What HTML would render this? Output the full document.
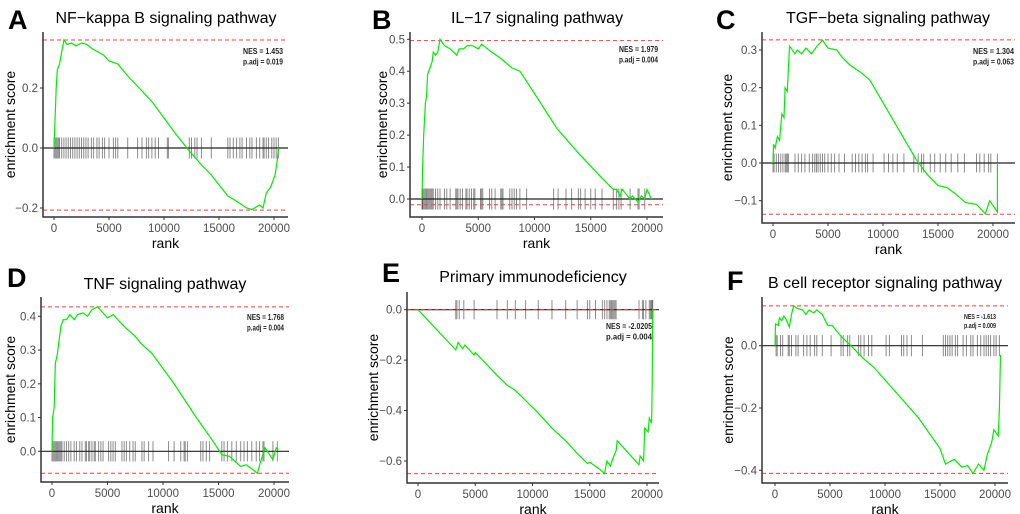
<!DOCTYPE html>
<html><head><meta charset="utf-8"><style>
html,body{margin:0;padding:0;background:#fff;width:1020px;height:514px;overflow:hidden}
svg{display:block;font-family:"Liberation Sans",sans-serif}
</style></head><body>
<svg id="fig" width="1020" height="514"></svg>
<script>
// ---- data ----
const xTicks=[0,5000,10000,15000,20000];
const xTickLabels=["0","5000","10000","15000","20000"];

const titles=["NF\u2212kappa B signaling pathway","IL\u221217 signaling pathway","TGF\u2212beta signaling pathway","TNF signaling pathway","Primary immunodeficiency","B cell receptor signaling pathway"];
const letters=["A","B","C","D","E","F"];
const nesLabels=["NES = 1.453","NES = 1.979","NES = 1.304","NES = 1.768","NES = -2.0205","NES = -1.613"];
const padjLabels=["p.adj = 0.019","p.adj = 0.004","p.adj = 0.063","p.adj = 0.004","p.adj = 0.004","p.adj = 0.009"];
const maxLines=[[0.36,-0.207],[0.496,-0.018],[0.327,-0.136],[0.428,-0.065],[0.0,-0.65],[0.128,-0.41]];

const yTicksA=[-0.2,0.0,0.2], yLabA=["-0.2","0.0","0.2"];
const yTicksB=[0,0.1,0.2,0.3,0.4,0.5], yLabB=["0.0","0.1","0.2","0.3","0.4","0.5"];
const yTicksC=[-0.1,0,0.1,0.2,0.3], yLabC=["-0.1","0.0","0.1","0.2","0.3"];
const yTicksD=[0,0.1,0.2,0.3,0.4], yLabD=["0.0","0.1","0.2","0.3","0.4"];
const yTicksE=[-0.6,-0.4,-0.2,0], yLabE=["-0.6","-0.4","-0.2","0.0"];
const yTicksF=[-0.4,-0.2,0], yLabF=["-0.4","-0.2","0.0"];

const rankA=[0,100,200,300,500,700,900,1200,1600,2000,2500,3000,3500,4500,5000,5800,6700,8000,9000,10000,11000,12300,13500,14300,15800,16500,17500,18000,18700,19000,19300,19700,20100,20300,20400];
const esA=[0,0.1,0.2,0.26,0.28,0.32,0.36,0.345,0.35,0.34,0.35,0.345,0.33,0.31,0.29,0.28,0.24,0.19,0.15,0.1,0.05,-0.01,-0.06,-0.09,-0.16,-0.175,-0.2,-0.205,-0.19,-0.2,-0.15,-0.13,-0.09,-0.04,0.0];
const hitsA=[0,100,200,300,400,500,700,900,1100,1300,1500,1700,1900,2100,2300,2500,2700,2900,3100,3400,3600,3900,4100,4400,4600,5000,5400,5600,5800,6700,7600,8000,8400,8600,8900,9200,9500,10300,10400,12300,12500,12800,13000,13400,14300,15800,16000,16300,16600,16900,17100,17500,17800,18000,18400,18700,19000,19100,19300,19500,19800,20000,20200,20400];

const rankB=[0,50,150,300,400,500,700,900,1000,1200,1400,1600,2000,2500,3100,3300,3700,4000,4500,5000,5300,6000,7000,8000,8700,10000,12000,14000,16000,17000,17300,17600,17800,18500,18700,19200,19500,19800,20000,20400];
const esB=[0,0.1,0.2,0.3,0.32,0.39,0.41,0.43,0.46,0.45,0.46,0.5,0.48,0.47,0.45,0.47,0.47,0.48,0.48,0.47,0.485,0.465,0.44,0.41,0.4,0.33,0.22,0.14,0.065,0.03,0.03,0.01,0.03,0,0.01,-0.01,0.01,0,0.03,0];
const hitsB=[0,50,100,200,300,400,500,600,700,800,900,1000,1200,1400,1600,2000,2200,2500,3000,3100,3200,3400,3600,3900,4000,4200,4400,4600,4700,5200,5300,5400,6000,6200,6500,7000,7100,7200,7800,8000,8200,8400,8700,9300,11700,12100,12800,13300,13900,14100,14500,15000,15400,16000,17000,17300,17500,17700,18500,19200,19300,19800];

const rankC=[0,50,200,400,600,800,1000,1100,1300,1500,2000,2200,2600,3000,3500,4000,4500,5000,5800,6300,7000,8000,8800,10000,11000,12000,13000,14000,15000,15800,16500,17500,18500,19300,19700,20400,20410];
const esC=[0,0.05,0.04,0.07,0.06,0.13,0.12,0.2,0.19,0.31,0.29,0.3,0.29,0.305,0.29,0.31,0.326,0.305,0.3,0.28,0.26,0.24,0.22,0.16,0.11,0.06,0.01,-0.03,-0.06,-0.065,-0.08,-0.105,-0.11,-0.135,-0.1,-0.13,0];
const hitsC=[0,100,300,500,700,900,1100,1200,1300,1400,2000,2300,2600,2900,3300,3600,3800,3950,4100,4300,4500,4700,5000,5300,5600,6000,6500,7200,7500,7800,8100,8400,8600,9100,10100,10500,10900,11300,11900,12800,13200,13500,13700,14300,14700,15200,15700,16200,16800,17400,18500,18800,19200,19600,19800,20400];

const rankD=[0,50,200,300,500,600,800,1000,1300,1600,2000,2300,2800,3200,3600,4100,4600,5000,5500,6500,7500,8000,9000,11000,13000,14300,15300,16000,17000,17500,18500,18800,19200,19900,20200,20400];
const esD=[0,0.1,0.13,0.26,0.29,0.32,0.37,0.39,0.39,0.405,0.39,0.405,0.41,0.4,0.42,0.428,0.41,0.395,0.405,0.37,0.34,0.32,0.29,0.2,0.1,0.04,-0.01,-0.015,-0.045,-0.04,-0.065,-0.03,0.01,-0.025,0.01,0.005];
const hitsD=[0,100,200,300,400,500,600,700,800,900,1100,1300,1500,1700,2000,2200,2500,2700,3000,3100,3300,3400,3600,3800,3900,4200,4400,4600,5100,5300,5500,5700,6300,6500,6700,7000,7300,7500,8100,8300,8700,9100,10500,11000,11600,11900,12000,12200,13400,13600,13900,14200,15300,15500,15800,16200,16600,17000,17300,17600,18000,18400,18700,19000,19100,19900,20300];

const rankE=[0,3300,3500,3900,4100,4900,5000,6900,7800,8500,9400,10500,11700,12900,13900,14800,15000,15800,16300,16500,16800,17100,17300,17400,19300,19400,19700,19800,20100,20200,20400,20450,20500];
const esE=[0,-0.16,-0.13,-0.155,-0.14,-0.18,-0.17,-0.26,-0.3,-0.32,-0.36,-0.41,-0.47,-0.52,-0.57,-0.61,-0.605,-0.63,-0.65,-0.6,-0.62,-0.58,-0.56,-0.52,-0.615,-0.58,-0.6,-0.47,-0.485,-0.43,-0.45,-0.3,0];
const hitsE=[3300,3400,3600,4000,4900,6900,7800,8500,9400,10500,11700,12900,13900,14800,15000,15500,16100,16300,16500,16700,16800,16900,17000,17100,17200,17300,19300,19600,19700,19900,20200,20300,20400,20450,20500];

const rankF=[0,50,300,400,600,800,1000,1300,1500,1700,2000,2500,2800,3100,3500,3800,4300,4800,5200,6000,6900,8000,9000,11000,13000,15000,15500,16000,16300,17000,17500,18000,18500,19000,19300,19700,19900,20300,20400,20500];
const esF=[0,0.07,0.065,0.09,0.08,0.095,0.085,0.06,0.1,0.128,0.12,0.115,0.1,0.115,0.105,0.115,0.1,0.065,0.065,0.03,0,-0.04,-0.07,-0.15,-0.23,-0.33,-0.38,-0.37,-0.365,-0.39,-0.385,-0.41,-0.38,-0.4,-0.35,-0.31,-0.27,-0.29,-0.2,-0.03];
const hitsF=[100,200,500,700,1200,1300,1500,1900,2100,2600,2900,3200,3600,3800,4300,5100,6000,6200,6600,6800,7600,7800,8100,8500,8800,10100,10400,11500,11700,12000,12400,13400,15300,15500,15700,15900,16100,16400,16600,17100,17400,17800,18000,18400,18700,19000,19200,19400,19600,19900,20100,20400];

// ---- layout (geometry only) ----
const geo=[
 {L:43,R:288,T:32,B:217,x0:54,x1:274,yv0:0,yp0:148,yv1:0.2,yp1:88,hh:0.035,lx:8,ly:29,tx:166,ty:23,nr:283,ny:54,nw:40,ylx:10,nfs:8.5},
 {L:410,R:663,T:32,B:217,x0:422,x1:647,yv0:0,yp0:199,yv1:0.5,yp1:39.3,hh:0.033,lx:372,ly:29,tx:537,ty:23,nr:658,ny:52,nw:39,ylx:382,nfs:8.5},
 {L:762,R:1015,T:32,B:223,x0:773,x1:993,yv0:0,yp0:163,yv1:0.3,yp1:50,hh:0.025,lx:716,ly:29,tx:888,ty:23,nr:1014,ny:54,nw:41,ylx:727,nfs:8.5},
 {L:41,R:289,T:297,B:482,x0:52,x1:274,yv0:0,yp0:451.3,yv1:0.4,yp1:316.3,hh:0.03,lx:7,ly:287,tx:165,ty:289,nr:284,ny:320,nw:37,ylx:10,nfs:8.5},
 {L:407,R:659,T:292,B:483,x0:418,x1:647,yv0:0,yp0:309.7,yv1:-0.6,yp1:461,hh:0.038,lx:382,ly:282,tx:533,ty:282,nr:652,ny:329,nw:46,ylx:373,nfs:8.5},
 {L:762,R:1008,T:297,B:483,x0:775,x1:995,yv0:0,yp0:345.7,yv1:-0.4,yp1:470.3,hh:0.034,lx:727,ly:290,tx:885,ty:288,nr:996,ny:319,nw:32,ylx:728,nfs:7}
];
const yTicks=[yTicksA,yTicksB,yTicksC,yTicksD,yTicksE,yTicksF];
const yLabs=[yLabA,yLabB,yLabC,yLabD,yLabE,yLabF];
const ranks=[rankA,rankB,rankC,rankD,rankE,rankF];
const scores=[esA,esB,esC,esD,esE,esF];
const hits=[hitsA,hitsB,hitsC,hitsD,hitsE,hitsF];

const NS="http://www.w3.org/2000/svg";
const svg=document.getElementById('fig');
function mk(tag,attrs,parent,txt){const e=document.createElementNS(NS,tag);for(const k in attrs)e.setAttribute(k,attrs[k]);if(txt!==undefined)e.textContent=txt;parent.appendChild(e);return e;}

geo.forEach((g,i)=>{
  const sx=r=>g.x0+(r/20000)*(g.x1-g.x0);
  const sy=v=>g.yp0+(v-g.yv0)*(g.yp1-g.yp0)/(g.yv1-g.yv0);
  const grp=mk('g',{},svg);
  
  
  const lt=mk('text',{x:g.lx,y:g.ly,'font-size':27,'font-weight':'bold',fill:'#000'},grp,letters[i]);
  
  
  const tt=mk('text',{x:g.tx,y:g.ty,'font-size':16,'text-anchor':'middle',fill:'#000'},grp,titles[i]);
  
  
  hits[i].forEach(h=>{
    const l=mk('line',{x1:sx(h),x2:sx(h),y1:sy(g.hh),y2:sy(-g.hh),stroke:'#000','stroke-width':1,'stroke-opacity':0.45},grp);
    
    
  });
  const z=mk('line',{x1:g.L,x2:g.R,y1:sy(0),y2:sy(0),stroke:'#222','stroke-width':1.2},grp);
  
  
  maxLines[i].forEach(v=>{
    const d=mk('line',{x1:g.L,x2:g.R,y1:sy(v),y2:sy(v),stroke:'#ff3b3b','stroke-width':1,'stroke-dasharray':'4,3'},grp);
    
    
  });
  const pts=ranks[i].map((r,k)=>sx(r).toFixed(1)+','+sy(scores[i][k]).toFixed(1)).join(' ');
  const c=mk('polyline',{points:pts,fill:'none',stroke:'#00ee00','stroke-width':1.2},grp);
  
  
  const ax=mk('path',{d:`M${g.L},${g.T}V${g.B}H${g.R}`,fill:'none',stroke:'#333','stroke-width':1.5},grp);
  
  
  yTicks[i].forEach((v,k)=>{
    mk('line',{x1:g.L-3,x2:g.L,y1:sy(v),y2:sy(v),stroke:'#333'},grp);
    const t=mk('text',{x:g.L-5,y:sy(v)+4,'font-size':11.5,'text-anchor':'end',fill:'#4d4d4d'},grp,yLabs[i][k].replace('-','\u2212'));
    
    
  });
  xTicks.forEach((v,k)=>{
    mk('line',{x1:sx(v),x2:sx(v),y1:g.B,y2:g.B+3,stroke:'#333'},grp);
    const t=mk('text',{x:sx(v),y:g.B+15,'font-size':11.5,'text-anchor':'middle',fill:'#4d4d4d'},grp,xTickLabels[k]);
    
    
  });
  const xl=mk('text',{x:(g.L+g.R)/2,y:g.B+31,'font-size':14,'text-anchor':'middle',fill:'#000'},grp,'rank');
  
  
  const cy=(g.T+g.B)/2, bx=g.ylx+5;
  const yl=mk('text',{x:bx,y:cy,'font-size':14,'text-anchor':'middle',fill:'#000',transform:`rotate(-90 ${bx} ${cy})`},grp,'enrichment score');
  
  
  const n1=mk('text',{x:g.nr-g.nw,y:g.ny,'font-size':g.nfs,'font-weight':'bold',fill:'#222',textLength:g.nw,lengthAdjust:'spacingAndGlyphs'},grp,nesLabels[i]);
  
  
  const n2=mk('text',{x:g.nr-g.nw,y:g.ny+(g.nfs+2),'font-size':g.nfs,'font-weight':'bold',fill:'#222',textLength:g.nw,lengthAdjust:'spacingAndGlyphs'},grp,padjLabels[i]);
  
  
});
</script>
</body></html>
